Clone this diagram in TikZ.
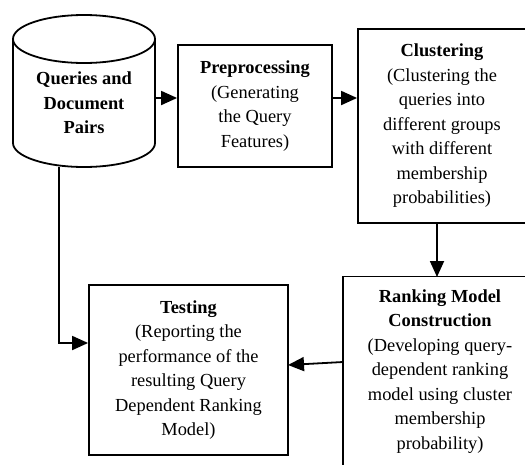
\documentclass[tikz,border=0pt]{standalone}
\usepackage{fontspec}
\setmainfont{Liberation Serif}
\usetikzlibrary{arrows.meta}
\begin{document}
\begin{tikzpicture}[x=1pt,y=-1pt,
  txt/.style={align=center,inner sep=0pt,font=\fontsize{18.4}{24.5}\selectfont},
  box/.style={txt,draw,line width=1.8pt},
  conn/.style={line width=1.8pt,-{Triangle[length=16pt,width=14pt]}},
  thickline/.style={line width=1.8pt}]
\useasboundingbox (0,0) rectangle (525,464);
\clip (0,0) rectangle (525,464);
% database cylinder
\draw[thickline] (84,39) ellipse [x radius=71, y radius=24];
\draw[thickline] (13,39) -- (13,143)
  .. controls (13,156.25) and (44.8,167) .. (84,167)
  .. controls (123.2,167) and (155,156.25) .. (155,143) -- (155,39);
\node[txt] (db) at (84,103) {\textbf{Queries and}\\\textbf{Document}\\\textbf{Pairs}};
\coordinate (dbright) at (155,98);
\coordinate (dbbottom) at (59,167);
\coordinate (bend) at (59,343);
% boxes
\node[box,minimum width=154,minimum height=122] (pre) at (255,106)
  {\textbf{Preprocessing}\\(Generating\\the Query\\Features)};
\node[box,minimum width=168,minimum height=194] (clu) at (442,126)
  {\textbf{Clustering}\\(Clustering the\\queries into\\different groups\\with different\\membership\\probabilities)};
\node[box,minimum width=194,minimum height=190] (rank) at (440,371.5)
  {\textbf{Ranking Model}\\\textbf{Construction}\\(Developing query-\\dependent ranking\\model using cluster\\membership\\probability)};
\node[box,minimum width=199,minimum height=170] (test) at (188.5,370)
  {\textbf{Testing}\\(Reporting the\\performance of the\\resulting Query\\Dependent Ranking\\Model)};
\coordinate (r1) at (343,362);
\coordinate (t1) at (288,365);
\coordinate (c1) at (437,223);
\coordinate (k1) at (437,277);
% connectors
\draw[conn] (dbright) -- (pre.west |- dbright);
\draw[conn] (pre.east |- dbright) -- (clu.west |- dbright);
\draw[conn] (c1) -- (k1);
\draw[conn] (r1) -- (t1);
\draw[conn] (dbbottom) -- (bend) -- (test.west |- bend);
\end{tikzpicture}
\end{document}
